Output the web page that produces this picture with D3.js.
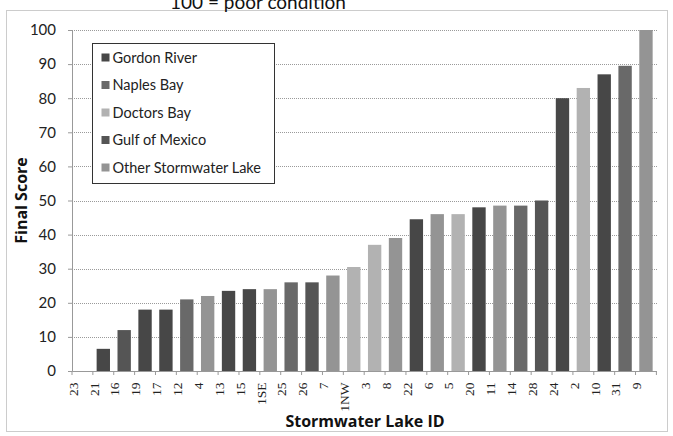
<!DOCTYPE html>
<html>
<head>
<meta charset="utf-8">
<script src="https://cdn.jsdelivr.net/npm/d3@7"></script>
<style>
  html, body { margin: 0; padding: 0; background: #fff; }
  svg { display: block; }
</style>
</head>
<body>
<svg id="chart" width="673" height="436"></svg>
<script>
// Stormwater lakes, sorted by final score
const lakeIds = ["23","21","16","19","17","12","4","13","15","1SE","25","26","7","1NW",
                 "3","8","22","6","5","20","11","14","28","24","2","10","31","9"];
const finalScores = [0, 6.5, 12, 18, 18, 21, 22, 23.5, 24, 24, 26, 26, 28, 30.5,
                     37, 39, 44.5, 46, 46, 48, 48.5, 48.5, 50, 80, 83, 87, 89.5, 100];
const receivingWater = ["Gulf of Mexico","Gordon River","Gulf of Mexico","Gordon River","Gordon River",
  "Naples Bay","Other Stormwater Lake","Gordon River","Gordon River","Other Stormwater Lake",
  "Naples Bay","Gulf of Mexico","Other Stormwater Lake","Doctors Bay","Doctors Bay",
  "Other Stormwater Lake","Gordon River","Other Stormwater Lake","Doctors Bay","Gordon River",
  "Other Stormwater Lake","Naples Bay","Gulf of Mexico","Gordon River","Doctors Bay",
  "Gordon River","Naples Bay","Other Stormwater Lake"];
const legendNames = ["Gordon River","Naples Bay","Doctors Bay","Gulf of Mexico","Other Stormwater Lake"];
const yTicks = [0,10,20,30,40,50,60,70,80,90,100];

const shades = ["#474747","#696969","#b2b2b2","#555555","#949494"];
const color = d3.scaleOrdinal().domain(legendNames).range(shades);

const svg = d3.select("#chart");
const W = 673, H = 436;
const m = { left: 72, right: 16, top: 30, bottom: 65 };

// dotted outer frame
svg.append("rect")
  .attr("x", 6.5).attr("y", 10.5).attr("width", 661).attr("height", 421)
  .attr("fill", "none").attr("stroke", "#999").attr("stroke-dasharray", "1,1");

// heading along the top edge
svg.append("text")
  .attr("x", 258).attr("y", 9)
  .attr("text-anchor", "middle")
  .attr("font-family", "Lato, 'Open Sans', sans-serif")
  .attr("font-size", 19).attr("fill", "#111")
  .text("100 = poor condition");

const x = d3.scaleBand().domain(lakeIds)
  .range([m.left, W - m.right - 0.6]).paddingInner(0.36).paddingOuter(0.18);
const y = d3.scaleLinear().domain([0, 100]).range([H - m.bottom, m.top]);

// gridlines
svg.append("g").selectAll("line").data(yTicks.filter(t => t > 0)).join("line")
  .attr("x1", m.left).attr("x2", W - m.right)
  .attr("y1", d => Math.round(y(d)) + 0.5).attr("y2", d => Math.round(y(d)) + 0.5)
  .attr("stroke", "#9a9a9a").attr("stroke-dasharray", "1,1");

// bars
svg.append("g").selectAll("rect").data(lakeIds).join("rect")
  .attr("x", d => x(d))
  .attr("width", x.bandwidth())
  .attr("y", (d, i) => y(finalScores[i]))
  .attr("height", (d, i) => y(0) - y(finalScores[i]))
  .attr("fill", (d, i) => color(receivingWater[i]));

// y axis
const yAxis = svg.append("g")
  .attr("transform", `translate(${m.left},0)`)
  .call(d3.axisLeft(y).tickValues(yTicks).tickSize(4).tickPadding(12));
yAxis.select(".domain").attr("stroke", "#999");
yAxis.selectAll(".tick line").attr("stroke", "#999");
yAxis.selectAll("text")
  .attr("font-family", "Lato, 'Open Sans', sans-serif")
  .attr("font-size", 15).attr("fill", "#222");

// x axis
const xAxis = svg.append("g")
  .attr("transform", `translate(0,${y(0)})`)
  .call(d3.axisBottom(x).tickSize(0).tickPadding(8));
xAxis.select(".domain").attr("stroke", "#999");
xAxis.selectAll("text")
  .attr("font-family", "'Liberation Serif', serif")
  .attr("font-size", 13.5).attr("fill", "#222")
  .attr("transform", "rotate(-90)")
  .attr("text-anchor", "end")
  .attr("dx", "-0.7em").attr("dy", "-0.35em")
  .attr("y", 0).attr("x", -2);

// category separators under the axis
svg.append("g").selectAll("line").data(d3.range(lakeIds.length + 1)).join("line")
  .attr("x1", i => m.left + i * (W - m.right - 0.6 - m.left) / lakeIds.length)
  .attr("x2", i => m.left + i * (W - m.right - 0.6 - m.left) / lakeIds.length)
  .attr("y1", y(0)).attr("y2", y(0) + 4)
  .attr("stroke", "#999");

// axis titles
svg.append("text")
  .attr("transform", `translate(27,${(y(0) + y(100)) / 2}) rotate(-90)`)
  .attr("text-anchor", "middle")
  .attr("font-family", "'Open Sans', sans-serif")
  .attr("font-weight", "bold").attr("font-size", 16).attr("fill", "#111")
  .text("Final Score");

svg.append("text")
  .attr("x", 365).attr("y", 427)
  .attr("text-anchor", "middle")
  .attr("font-family", "'Open Sans', sans-serif")
  .attr("font-weight", "bold").attr("font-size", 16).attr("fill", "#111")
  .text("Stormwater Lake ID");

// legend
const lg = svg.append("g").attr("transform", "translate(92.5,43.5)");
lg.append("rect").attr("width", 182).attr("height", 140)
  .attr("fill", "#fff").attr("stroke", "#333");
const items = lg.selectAll("g").data(legendNames).join("g")
  .attr("transform", (d, i) => `translate(9,${14 + i * 27.5})`);
items.append("rect").attr("x", 0).attr("y", -4).attr("width", 8).attr("height", 8)
  .attr("fill", d => color(d));
items.append("text").attr("x", 11).attr("y", 0).attr("dy", "0.35em")
  .attr("font-family", "Lato, 'Open Sans', sans-serif")
  .attr("font-size", 14.5).attr("fill", "#222")
  .text(d => d);
</script>
</body>
</html>
